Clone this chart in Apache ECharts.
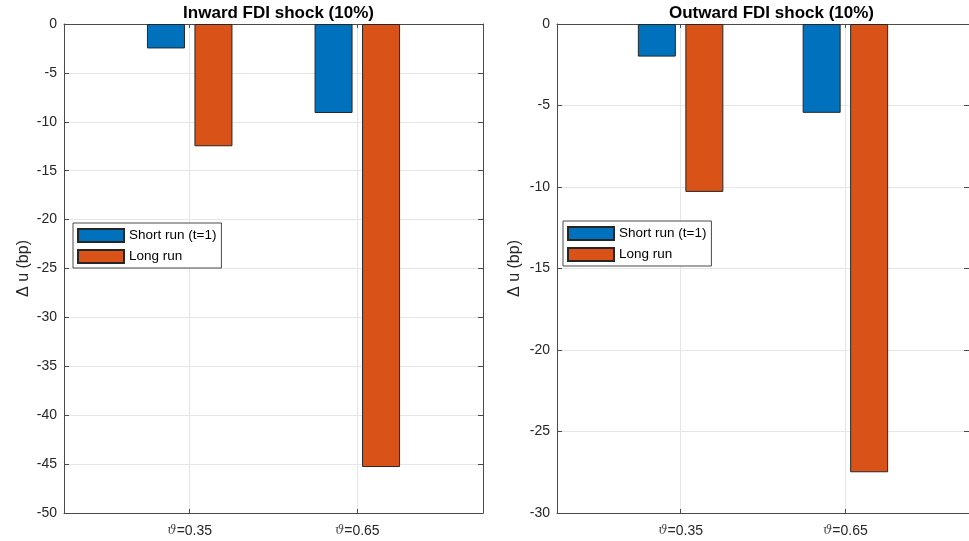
<!DOCTYPE html>
<html>
<head>
<meta charset="utf-8">
<title>FDI shock responses</title>
<script src="https://cdn.jsdelivr.net/npm/echarts@6/dist/echarts.min.js"></script>
<style>
  html, body { margin: 0; padding: 0; background: #fff; }
  #chart { width: 969px; height: 541px; }
</style>
</head>
<body>
<div id="chart"></div>
<script>
// Group labels and their positions along the x axis
const categories = ['ϑ=0.35', 'ϑ=0.65'];
const positions = [1, 2];

// Change in unemployment (basis points)
const inwardShort = [-2.5, -9.1];
const inwardLong = [-12.5, -45.3];
const outwardShort = [-2.0, -5.45];
const outwardLong = [-10.3, -27.5];

const seriesNames = ['Short run (t=1)', 'Long run'];
const titles = ['Inward FDI shock (10%)', 'Outward FDI shock (10%)'];
const yMin = [-50, -30];
const yTickStep = 5;

const BLUE = '#0072BD';
const ORANGE = '#D95319';
const INK = '#262626';
const AXIS = '#4a4a4a';
const GRIDC = '#e6e6e6';
const FONT = 'Liberation Sans, Arial, sans-serif';

const pairs = (vals) => vals.map((v, i) => [positions[i], v]);

const panels = [
  { left: 64, title: titles[0], short: inwardShort, long: inwardLong, min: yMin[0], nameGap: 32, legLeft: 73, legTop: 223 },
  { left: 557, title: titles[1], short: outwardShort, long: outwardLong, min: yMin[1], nameGap: 34, legLeft: 563, legTop: 221 }
];

const grid = [], xAxis = [], yAxis = [], series = [], title = [], legend = [];

panels.forEach((p, k) => {
  grid.push({ left: p.left, top: 24, width: 419, height: 489, containLabel: false });

  title.push({
    text: p.title,
    left: p.left + 209.5,
    top: 0,
    textAlign: 'center',
    textStyle: { fontFamily: FONT, fontSize: 17, fontWeight: 'bold', color: '#000' }
  });

  const xCommon = {
    type: 'value', gridIndex: k, min: 0.25, max: 2.75,
    axisLine: { show: true, onZero: false, lineStyle: { color: AXIS, width: 1 } },
    axisTick: { show: true, inside: true, length: 4, customValues: positions, lineStyle: { color: AXIS } },
  };
  xAxis.push(Object.assign({}, xCommon, {
    position: 'bottom',
    splitLine: { show: true, lineStyle: { color: GRIDC, width: 1 } },
    axisLabel: {
      customValues: positions,
      margin: 11,
      fontFamily: FONT, fontSize: 14, color: INK,
      formatter: (v) => {
        const c = categories[positions.indexOf(v)] || '';
        return '{t|' + c.charAt(0) + '}' + c.slice(1);
      },
      rich: { t: { fontFamily: 'DejaVu Serif, serif', fontStyle: 'italic', fontSize: 13, color: '#555' } }
    }
  }));
  xAxis.push(Object.assign({}, xCommon, {
    position: 'top',
    splitLine: { show: false },
    axisLabel: { show: false }
  }));

  const yCommon = {
    type: 'value', gridIndex: k, min: p.min, max: 0, interval: yTickStep,
    axisLine: { show: true, onZero: false, lineStyle: { color: AXIS, width: 1 } },
    axisTick: { show: true, inside: true, length: 5, lineStyle: { color: AXIS } }
  };
  yAxis.push(Object.assign({}, yCommon, {
    position: 'left',
    name: 'Δ u (bp)',
    nameLocation: 'middle',
    nameGap: p.nameGap,
    nameTextStyle: { fontFamily: FONT, fontSize: 16, color: INK },
    splitLine: { show: true, lineStyle: { color: GRIDC, width: 1 } },
    axisLabel: { margin: 7, fontFamily: FONT, fontSize: 14, color: INK }
  }));
  yAxis.push(Object.assign({}, yCommon, {
    position: 'right',
    splitLine: { show: false },
    axisLabel: { show: false }
  }));

  [[p.short, BLUE, seriesNames[0]], [p.long, ORANGE, seriesNames[1]]].forEach(([vals, color, name]) => {
    series.push({
      type: 'bar',
      name: name,
      xAxisIndex: 2 * k,
      yAxisIndex: 2 * k,
      data: pairs(vals),
      barWidth: 38,
      barGap: '25%',
      itemStyle: { color: color, borderColor: INK, borderWidth: 1 },
      emphasis: { disabled: true },
      animation: false
    });
  });

  legend.push({
    show: true,
    orient: 'vertical',
    left: p.legLeft,
    top: p.legTop,
    data: seriesNames.map((n) => ({ name: n, icon: 'rect' })),
    itemWidth: 46,
    itemHeight: 13,
    itemGap: 6,
    padding: [5, 5, 4, 4],
    borderColor: AXIS,
    borderWidth: 1,
    backgroundColor: '#fff',
    selectedMode: false,
    textStyle: { fontFamily: FONT, fontSize: 13.5, color: '#000' }
  });
});

const chart = echarts.init(document.getElementById('chart'), null, { renderer: 'canvas' });
chart.setOption({
  backgroundColor: '#fff',
  animation: false,
  title, grid, xAxis, yAxis, series, legend
});
</script>
</body>
</html>
